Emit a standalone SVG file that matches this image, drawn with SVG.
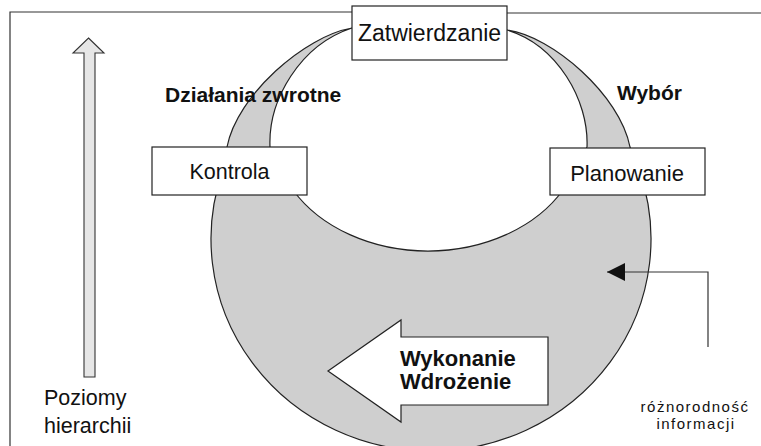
<svg xmlns="http://www.w3.org/2000/svg" width="761" height="446" viewBox="0 0 761 446">
<defs>
<style>
.frame{stroke:#333;stroke-width:1.2;fill:none}
.box{fill:#fff;stroke:#222;stroke-width:1.2}
.lbl{font-family:"Liberation Sans",Arial,sans-serif;fill:#111}
.bold{font-weight:bold}
.shape{fill:#cfcfcf;stroke:#222;stroke-width:1.2;stroke-linejoin:round}
.conn{stroke:#333;stroke-width:1.2;fill:none}
</style>
<marker id="tri" markerWidth="18" markerHeight="18" refX="18" refY="9" orient="auto" markerUnits="userSpaceOnUse">
<path d="M0,0 L18,9 L0,18 Z" fill="#111"/>
</marker>
</defs>
<rect width="761" height="446" fill="#fff"/>
<g id="frame">
<path class="frame" d="M10,446 V12 H352 M507,13 H761"/>
</g>
<g id="cycle">
<path class="shape" d="M352,28 C305,36 237,95 227,147 L223,170 A220 212 0 1 0 639,170 L630,147 C620,95 552,36 507,30 C557,45 589,100 587,147 L563,190 A155 120 0 0 1 293,190 L270,147 C268,100 300,45 352,28 Z"/>
</g>
<g id="zatwierdzanie">
<rect class="box" x="352" y="6" width="155" height="54"/>
<text class="lbl" x="429.5" y="41" font-size="23" text-anchor="middle">Zatwierdzanie</text>
</g>
<g id="kontrola">
<rect class="box" x="152" y="147" width="155" height="48"/>
<text class="lbl" x="229.5" y="179" font-size="21.5" text-anchor="middle">Kontrola</text>
</g>
<g id="planowanie">
<rect class="box" x="550" y="148" width="155" height="47"/>
<text class="lbl" x="627" y="181" font-size="22" text-anchor="middle">Planowanie</text>
</g>
<g id="dzialania">
<text class="lbl bold" x="165" y="102" font-size="21">Działania zwrotne</text>
</g>
<g id="wybor">
<text class="lbl bold" x="617" y="100" font-size="21">Wybór</text>
</g>
<g id="wykonanie">
<path d="M328,371 L401,320 L401,337 L548,337 L548,405 L401,405 L401,422 Z" fill="#fff" stroke="#222" stroke-width="1.2" stroke-linejoin="miter"/>
<text class="lbl bold" x="400" y="366" font-size="22">Wykonanie</text>
<text class="lbl bold" x="400" y="389" font-size="22">Wdrożenie</text>
</g>
<g id="hierarchia">
<path d="M88.5,38 L104,53 L95,53 L95,377 L84,377 L84,53 L73,53 Z" fill="#e6e6e6" stroke="#333" stroke-width="1.1"/>
<text class="lbl" x="44" y="405" font-size="21.5">Poziomy</text>
<text class="lbl" x="44" y="433" font-size="21.5">hierarchii</text>
</g>
<g id="informacja">
<text class="lbl" x="695" y="412" font-size="15" letter-spacing="1.5" text-anchor="middle">różnorodność</text>
<text class="lbl" x="696" y="429" font-size="15" letter-spacing="1.5" text-anchor="middle">informacji</text>
</g>
<g id="connectors">
<path class="conn" d="M708,347 V272 H607" marker-end="url(#tri)"/>
</g>
</svg>
